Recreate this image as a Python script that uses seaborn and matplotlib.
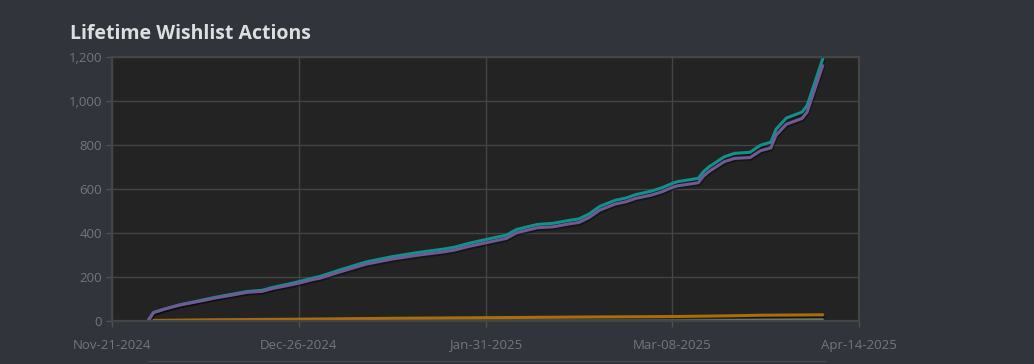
import pandas as pd
import matplotlib.pyplot as plt
import matplotlib.dates as mdates
import matplotlib.patheffects as pe
from matplotlib.lines import Line2D
from matplotlib.ticker import FuncFormatter, FixedLocator, FixedFormatter
import seaborn as sns

# Lifetime wishlist actions
dates = [
    "2024-11-28", "2024-11-29", "2024-12-01", "2024-12-04", "2024-12-09", "2024-12-11",
    "2024-12-14", "2024-12-17", "2024-12-20", "2024-12-22", "2024-12-25", "2024-12-27",
    "2024-12-30", "2024-12-31", "2025-01-04", "2025-01-09", "2025-01-14", "2025-01-19",
    "2025-01-24", "2025-01-26", "2025-01-29", "2025-02-02", "2025-02-05", "2025-02-07",
    "2025-02-11", "2025-02-14", "2025-02-17", "2025-02-19", "2025-02-21", "2025-02-23",
    "2025-02-26", "2025-02-28", "2025-03-02", "2025-03-05", "2025-03-07", "2025-03-09",
    "2025-03-10", "2025-03-14", "2025-03-15", "2025-03-16", "2025-03-19", "2025-03-21",
    "2025-03-24", "2025-03-26", "2025-03-28", "2025-03-29", "2025-03-31", "2025-04-03",
    "2025-04-04", "2025-04-07",
]
adds = [
    0, 36, 51, 71, 96, 106, 119, 132, 138, 151, 166, 177,
    195, 200, 231, 267, 291, 310, 326, 334, 353, 374, 389, 415,
    438, 443, 456, 463, 486, 520, 548, 558, 574, 590, 605, 625,
    633, 648, 678, 699, 746, 762, 767, 799, 813, 872, 923, 950,
    980, 1193,
]
net = [
    0, 36, 51, 70, 93, 103, 115, 128, 133, 146, 160, 170,
    188, 192, 222, 257, 280, 298, 313, 321, 339, 359, 374, 400,
    423, 427, 440, 447, 470, 503, 531, 541, 557, 572, 587, 607,
    614, 628, 658, 678, 724, 739, 743, 774, 787, 845, 895, 921,
    951, 1162,
]

del_dates = ["2024-11-28", "2024-12-09", "2024-12-27", "2025-01-14", "2025-02-02",
             "2025-02-21", "2025-03-09", "2025-03-19", "2025-03-26", "2025-04-07"]
deletes = [0, 3, 6, 10, 13, 16, 18, 21, 24, 26]

buy_dates = ["2024-11-28", "2024-12-27", "2025-01-31", "2025-03-09", "2025-04-07"]
purchases = [0, 1, 2, 3, 5]

x_tick_dates = ["2024-11-21", "2024-12-27", "2025-02-01", "2025-03-09", "2025-04-14"]
x_tick_labels = ["Nov-21-2024", "Dec-26-2024", "Jan-31-2025", "Mar-08-2025", "Apr-14-2025"]
y_ticks = [0, 200, 400, 600, 800, 1000, 1200]

BG = "#31343b"
PLOT_BG = "#232323"
GRID = "#444444"
TICK_TXT = "#73777c"

sns.set_theme(style="dark")
plt.rcParams["font.family"] = ["Open Sans", "DejaVu Sans"]

fig = plt.figure(figsize=(10.34, 3.64), dpi=100, facecolor=BG)
ax = fig.add_axes([0.1083, 0.1195, 0.7225, 0.7231])
ax.set_facecolor(PLOT_BG)

shadow = [pe.SimpleLineShadow(offset=(0.6, -1.2), shadow_color="black", alpha=0.4), pe.Normal()]

main_df = pd.DataFrame({"date": pd.to_datetime(dates), "adds": adds, "net": net})
del_df = pd.DataFrame({"date": pd.to_datetime(del_dates), "value": deletes})
buy_df = pd.DataFrame({"date": pd.to_datetime(buy_dates), "value": purchases})

sns.lineplot(data=buy_df, x="date", y="value", ax=ax, color="#6f7c66", linewidth=1.6,
             path_effects=shadow)
sns.lineplot(data=del_df, x="date", y="value", ax=ax, color="#aa6c0c", linewidth=2.2,
             path_effects=shadow)
sns.lineplot(data=main_df, x="date", y="adds", ax=ax, color="#12908c", linewidth=2.2,
             path_effects=shadow)
sns.lineplot(data=main_df, x="date", y="net", ax=ax, color="#6f5a96", linewidth=2.2,
             path_effects=shadow)

ax.set_xlim(pd.Timestamp("2024-11-21"), pd.Timestamp("2025-04-14"))
ax.set_ylim(0, 1200)
ax.xaxis.set_major_locator(FixedLocator(mdates.date2num(pd.to_datetime(x_tick_dates))))
ax.xaxis.set_major_formatter(FixedFormatter(x_tick_labels))
ax.set_yticks(y_ticks)
ax.yaxis.set_major_formatter(FuncFormatter(lambda v, _: f"{int(v):,}"))

ax.grid(True, color=GRID, linewidth=1.0)
ax.set_axisbelow(True)
ax.set_xlabel("")
ax.set_ylabel("")
for side in ["left", "bottom", "top", "right"]:
    ax.spines[side].set_visible(True)
    ax.spines[side].set_color("#454545")
    ax.spines[side].set_linewidth(1.6)
ax.tick_params(axis="both", colors="#505050", length=4, width=1, labelsize=9.5,
               labelcolor=TICK_TXT, bottom=True, left=True)
ax.tick_params(axis="x", pad=9)
ax.tick_params(axis="y", pad=3)

fig.text(0.0677, 0.893, "Lifetime Wishlist Actions", color="#dcdedf", fontsize=14,
         fontweight="bold", ha="left", va="baseline")

# faint top edge of the range navigator peeking in at the bottom
fig.add_artist(Line2D([148 / 1034, 825 / 1034], [3 / 364, 3 / 364], color="#45484f",
                      linewidth=1.0, transform=fig.transFigure))

fig.savefig("out.png", dpi=100, facecolor=BG)
plt.close(fig)
